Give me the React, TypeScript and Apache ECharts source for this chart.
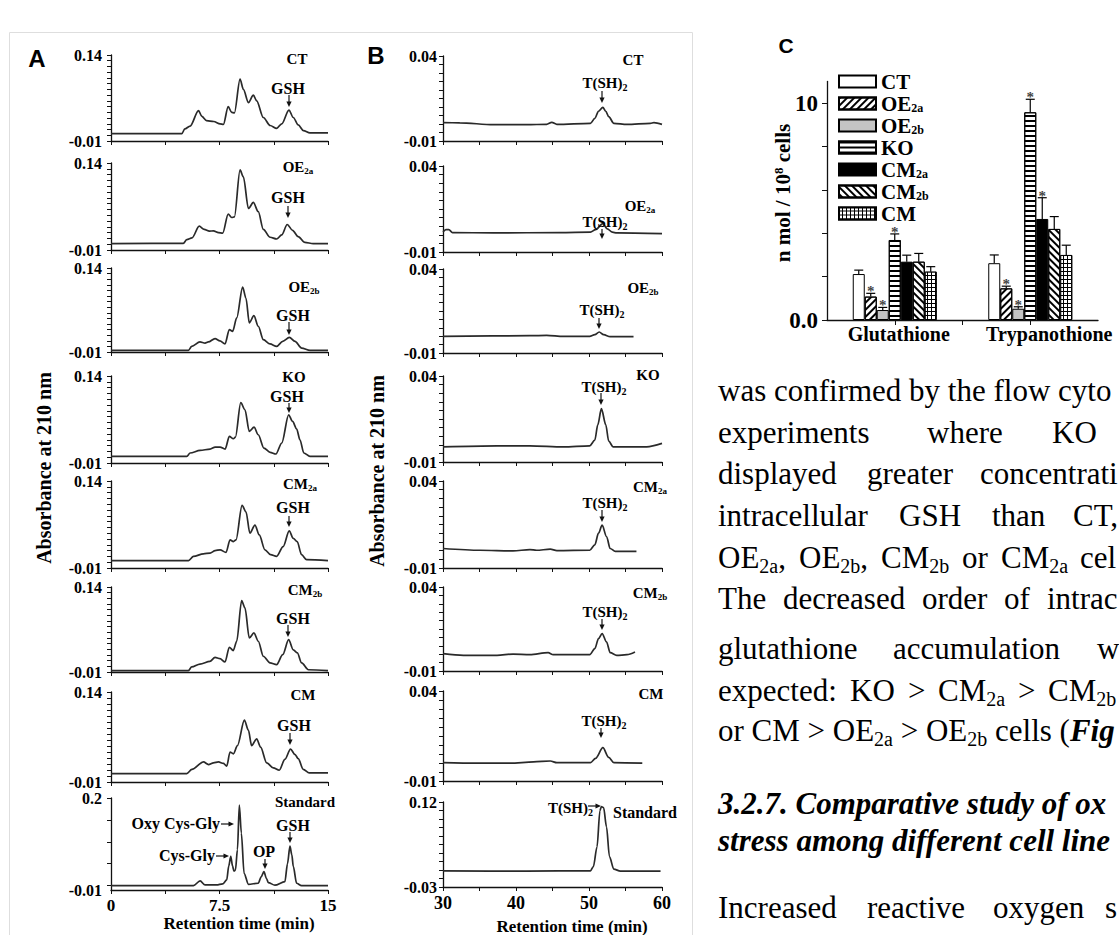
import React, { useEffect, useRef } from "react";
import * as echarts from "echarts";

// ================= DATA =================
// Panel A: HPLC chromatograms of glutathione (x: retention time, min; y: absorbance at 210 nm)
const gshCT = [[0,0.003],[4.9,0.003],[5.1,0.011],[5.47,0.016],[6.05,0.043],[6.28,0.033],[6.6,0.0255],[7.1,0.024],[7.54,0.02],[7.77,0.019],[8.1,0.05],[8.34,0.04],[8.53,0.039],[8.92,0.098],[9.15,0.08],[9.5,0.057],[9.84,0.07],[10.07,0.06],[10.53,0.031],[11.0,0.017],[11.45,0.012],[11.8,0.02],[12.3,0.044],[12.6,0.031],[12.94,0.018],[13.3,0.008],[13.75,0.004],[15,0.004]];
const gshOE2a = [[0,0.001],[5.0,0.0015],[5.24,0.008],[5.6,0.011],[6.1,0.031],[6.44,0.0255],[6.8,0.0226],[7.08,0.023],[7.43,0.02],[7.72,0.019],[8.1,0.052],[8.34,0.046],[8.53,0.047],[8.92,0.128],[9.15,0.116],[9.5,0.0616],[9.84,0.072],[10.18,0.056],[10.53,0.0255],[11.0,0.012],[11.45,0.009],[11.8,0.016],[12.18,0.034],[12.55,0.024],[12.94,0.013],[13.4,0.003],[13.98,0.001],[15,0.001]];
const gshOE2b = [[0,-0.007],[5.35,-0.007],[5.58,0.0],[6.15,0.008],[6.5,0.006],[6.73,0.008],[7.19,0.014],[7.53,0.01],[7.88,0.0044],[8.18,0.03],[8.41,0.027],[8.69,0.051],[9.1,0.106],[9.33,0.086],[9.56,0.042],[9.88,0.055],[10.18,0.036],[10.53,0.012],[10.99,0.0044],[11.45,0.0],[11.87,0.009],[12.33,0.016],[12.72,0.009],[13.18,-0.003],[13.76,-0.007],[15,-0.007]];
const gshKO = [[0,0.0014],[5.24,0.0014],[5.47,0.0072],[6.16,0.0118],[6.85,0.014],[7.2,0.0175],[7.54,0.0175],[7.89,0.014],[8.18,0.0358],[8.46,0.0318],[8.6,0.0346],[8.97,0.094],[9.26,0.0816],[9.56,0.0444],[9.89,0.0518],[10.18,0.0387],[10.57,0.0158],[11.0,0.0083],[11.4,0.0055],[11.8,0.0243],[12.28,0.073],[12.55,0.0616],[12.83,0.049],[13.06,0.03],[13.33,0.0072],[13.75,0.0014],[15,0.0014]];
const gshCM2a = [[0,0.0026],[5.36,0.0026],[5.7,0.01],[6.39,0.0145],[6.85,0.0157],[7.2,0.02],[7.54,0.0214],[7.95,0.0168],[8.23,0.0385],[8.46,0.0356],[8.64,0.0385],[9.06,0.098],[9.33,0.087],[9.6,0.05],[9.95,0.064],[10.25,0.047],[10.64,0.0214],[11.03,0.013],[11.45,0.01],[11.9,0.027],[12.32,0.054],[12.6,0.041],[12.87,0.0356],[13.17,0.013],[13.52,0.0043],[15,0.0026]];
const gshCM2b = [[0,-0.0076],[5.35,-0.0076],[5.58,-0.001],[6.15,0.004],[6.84,0.0089],[7.19,0.0158],[7.53,0.0136],[7.88,0.0077],[8.18,0.0337],[8.45,0.0278],[8.69,0.0443],[9.03,0.116],[9.26,0.103],[9.56,0.05],[9.88,0.059],[10.18,0.0443],[10.53,0.0178],[10.99,0.006],[11.45,0.003],[11.87,0.0207],[12.28,0.047],[12.6,0.029],[12.88,0.0237],[13.18,0.006],[13.64,-0.006],[15,-0.0076]];
const gshCM = [[0,0.0041],[5.24,0.0041],[5.59,0.0109],[6.39,0.0234],[6.74,0.019],[7.08,0.022],[7.43,0.0234],[7.77,0.021],[8.0,0.0166],[8.23,0.04],[8.46,0.037],[8.74,0.0506],[9.22,0.093],[9.5,0.076],[9.72,0.0506],[10.07,0.062],[10.34,0.048],[10.76,0.022],[11.22,0.0136],[11.63,0.0096],[12.02,0.0277],[12.41,0.0448],[12.71,0.036],[12.94,0.029],[13.29,0.011],[13.7,0.0053],[15,0.0053]];
const gshStandard = [[0,0],[5.7,0],[6.16,0.0108],[6.5,0.0015],[7.3,0.0015],[7.72,0.004],[8.0,0.013],[8.14,0.045],[8.28,0.067],[8.4,0.045],[8.5,0.033],[8.6,0.035],[8.74,0.082],[8.87,0.184],[9.01,0.12],[9.2,0.028],[9.5,0.003],[10.18,0.0054],[10.38,0.02],[10.57,0.032],[10.75,0.016],[10.87,0.007],[11.33,0.001],[12.02,0.009],[12.2,0.05],[12.37,0.09],[12.5,0.07],[12.6,0.044],[12.83,0.0054],[13.17,0],[15,0]];

// Panel B: HPLC chromatograms of trypanothione (x: retention time, min)
const tshCT = [[30,0.0008],[32.3,0.0007],[36.9,-0.0004],[41.5,-0.0004],[44.2,-0.0002],[44.9,0.001],[45.6,-0.0002],[50.2,0.0004],[50.8,0.0033],[51.3,0.0075],[51.9,0.0098],[52.3,0.0075],[52.7,0.0043],[53.4,0.0004],[55.2,-0.0002],[58.4,0.0004],[58.9,0.0008],[60,-0.0002]];
const tshOE2a = [[30,0.0017],[30.4,0.003],[30.8,0.003],[31.3,0.0013],[36.9,0.0011],[46,0.0013],[50.2,0.0015],[50.9,0.003],[51.9,0.0065],[52.5,0.0035],[53.2,0.0015],[53.8,0.0011],[60,0.0007]];
const tshOE2b = [[30,-0.0001],[41.9,0.0003],[44.2,0.0005],[46.5,-0.0001],[50.1,-0.0001],[50.8,0.0009],[51.4,0.0025],[52,0.0009],[52.9,-0.0003],[56.1,-0.0003]];
const tshKO = [[30,-0.0012],[37.4,-0.0006],[41.9,-0.0006],[46.5,-0.0012],[50.1,-0.0006],[50.8,0.0027],[51.2,0.0116],[51.7,0.021],[52.3,0.0116],[52.7,0.0021],[53.3,-0.0012],[57.9,-0.0012],[60,0.0008]];
const tshCM2a = [[30,0.0012],[35.1,0.0002],[39.6,-0.0002],[41.9,0.0006],[42.8,0.0002],[44.7,0.0008],[45.6,0.0],[50.1,0.0002],[50.8,0.0033],[51.3,0.01],[51.8,0.0146],[52.4,0.0081],[52.9,0.0012],[53.6,-0.0004],[56.5,-0.0004]];
const tshCM2b = [[30,0.0003],[32.8,-0.0007],[37.4,-0.0007],[39.6,0.0001],[41.9,-0.0003],[44.4,0.0009],[45.1,-0.0003],[50.1,-0.0003],[50.8,0.0033],[51.3,0.0093],[51.8,0.0123],[52.4,0.0073],[52.9,0.0009],[53.8,-0.0007],[55.2,-0.0003],[56.3,0.0013]];
const tshCM = [[30,0.0002],[34.6,-0.0001],[39.2,-0.0001],[42.4,0.0006],[44.7,0.0011],[45.6,0.0002],[50.2,0.0002],[50.9,0.0026],[51.9,0.0085],[52.7,0.0031],[53.4,0.0002],[57.3,-0.0001]];
const tshStandard = [[30,-0.0014],[41.5,-0.002],[50.2,-0.0014],[50.6,0.006],[51.1,0.041],[51.5,0.105],[51.7,0.112],[52.0,0.11],[52.4,0.076],[52.8,0.0237],[53.4,0.0016],[54.3,-0.002],[59.8,-0.002]];

const panelNames = ["CT", "OE2a", "OE2b", "KO", "CM2a", "CM2b", "CM", "Standard"];
const gshTraces = [gshCT, gshOE2a, gshOE2b, gshKO, gshCM2a, gshCM2b, gshCM, gshStandard];
const tshTraces = [tshCT, tshOE2a, tshOE2b, tshKO, tshCM2a, tshCM2b, tshCM, tshStandard];

// Axis ticks / labels
const aXTicks = [0, 3.75, 7.5, 11.25, 15];
const aXLabels = [0, 7.5, 15];
const bXTicks = [30, 35, 40, 45, 50, 55, 60];
const bXLabels = [30, 40, 50, 60];
const aYTicks = [-0.01, 0, 0.01, 0.02, 0.03, 0.04, 0.05, 0.06, 0.07, 0.08, 0.09, 0.1, 0.11, 0.12, 0.13, 0.14];
const aYLabels = [-0.01, 0.14];
const aStdYTicks = [0, 0.05, 0.1, 0.15, 0.2];
const aStdYLabels = [-0.01, 0.2];
const bYTicks = [-0.01, -0.005, 0, 0.005, 0.01, 0.015, 0.02, 0.025, 0.03, 0.035, 0.04];
const bYLabels = [-0.01, 0.04];
const bStdYTicks = [-0.03, -0.015, 0, 0.015, 0.03, 0.045, 0.06, 0.075, 0.09, 0.105, 0.12];
const bStdYLabels = [-0.03, 0.12];

// Panel C: thiol content (n mol / 10^8 cells)
const cellLines = ["CT", "OE2a", "OE2b", "KO", "CM2a", "CM2b", "CM"];
const thiolCategories = ["Glutathione", "Trypanothione"];
const glutathioneMean = [2.12, 1.08, 0.46, 3.69, 2.69, 2.69, 2.23];
const glutathioneErr = [0.18, 0.15, 0.12, 0.28, 0.3, 0.38, 0.23];
const glutathioneStar = [0, 1, 1, 1, 0, 0, 0];
const trypanothioneMean = [2.62, 1.46, 0.52, 9.58, 4.66, 4.2, 3.0];
const trypanothioneErr = [0.38, 0.1, 0.09, 0.6, 0.98, 0.57, 0.45];
const trypanothioneStar = [0, 1, 1, 1, 1, 0, 0];
const cYTicks = [0, 2, 4, 6, 8, 10];
const cYLabels = [0, 10];

// ================= LAYOUT / STYLE =================
const SERIF = '"Liberation Serif", "Times New Roman", serif';
const SANS = '"Liberation Sans", Arial, sans-serif';
const INK = "#111";
const TRACE = "#2a2a2a";
const A_LEFT = 111, A_WIDTH = 217;
const B_LEFT = 443, B_WIDTH = 219;
const topsA = [55, 163, 268, 376, 481, 587, 692, 798];
const botsA = [141, 250, 352, 463, 568, 672, 782, 890];
const topsB = [56, 166, 269, 376, 481, 587, 691, 802];
const botsB = [141, 252, 353, 462, 568, 671, 781, 887];
const C_GRID = { left: 827, top: 81.5, width: 271, height: 238.5 };
const BAR_W = 12;

// label layout: [nameX, nameY, tagX, tagY, arrowX, arrowY1, arrowY2]
const labelA = [
  [297, 59, 288, 88, 289, 95, 107],
  [298, 167, 288, 197, 288, 206, 218],
  [304, 287, 293, 315, 289, 322, 335],
  [294, 377, 287, 396, 289, 403, 413],
  [300, 484, 293, 507, 289, 516, 527],
  [305, 590, 293, 618, 288, 625, 637],
  [303, 695, 294, 725, 290, 733, 745],
  [305, 802, 293, 825, 290, 832, 843],
];
const labelB = [
  [633, 60, 605, 83, 602, 91, 103],
  [640, 206, 605, 222, 602, 229, 239],
  [643, 288, 602, 310, 599, 318, 329],
  [648, 375, 604, 387, 601, 393, 405],
  [650, 487, 605, 503, 602, 510, 522],
  [650, 593, 605, 612, 602, 619, 630],
  [651, 694, 604, 721, 601, 728, 738],
];

const fmt = (v: number) => String(Math.round(v * 1000) / 1000);
const subName = (n: string) => n.replace(/^(OE|CM)(\w+)$/, "$1{s|$2}");

function valueAxis(gridIndex: number, min: number, max: number, ticks: number[], labels: number[] | null, fontSize: number, margin: number, formatter?: any) {
  return {
    type: "value", gridIndex, min, max,
    axisLine: { show: true, onZero: false, lineStyle: { color: INK, width: 1.3 } },
    axisTick: { show: true, customValues: ticks, length: 4, inside: false, lineStyle: { color: INK, width: 1 } },
    axisLabel: labels
      ? { show: true, customValues: labels, fontFamily: SERIF, fontWeight: "bold", fontSize, color: "#000", margin, formatter: formatter || fmt }
      : { show: false },
    splitLine: { show: false },
  };
}

function txt(x: number, y: number, text: string, size: number, opt: any = {}) {
  return {
    type: "text", x, y, rotation: opt.rotation || 0, silent: true, z: 100,
    style: {
      text, fontFamily: opt.family || SERIF, fontSize: size, fontWeight: opt.weight || "bold",
      fontStyle: opt.fontStyle || "normal", fill: opt.fill || "#000",
      align: opt.align || "center", verticalAlign: "middle", rich: opt.rich,
    },
  };
}
const subRich = (size: number, drop: number, weight = "bold") => ({
  s: { fontFamily: SERIF, fontSize: size, fontWeight: weight, fill: "#000", padding: [drop, 0, 0, 0] },
});
function downArrow(x: number, y1: number, y2: number) {
  return [
    { type: "line", silent: true, z: 100, shape: { x1: x, y1, x2: x, y2: y2 - 4 }, style: { stroke: INK, lineWidth: 1.2 } },
    { type: "polygon", silent: true, z: 100, shape: { points: [[x - 2.6, y2 - 5.5], [x + 2.6, y2 - 5.5], [x, y2]] }, style: { fill: INK } },
  ];
}
function rightArrow(x1: number, x2: number, y: number) {
  return [
    { type: "line", silent: true, z: 100, shape: { x1, y1: y, x2: x2 - 4, y2: y }, style: { stroke: INK, lineWidth: 1.2 } },
    { type: "polygon", silent: true, z: 100, shape: { points: [[x2 - 5.5, y - 2.6], [x2 - 5.5, y + 2.6], [x2, y]] }, style: { fill: INK } },
  ];
}

function buildOption() {
  const grid: any[] = [], xAxis: any[] = [], yAxis: any[] = [], series: any[] = [];
  const addTrace = (data: number[][], gi: number) =>
    series.push({
      type: "line", xAxisIndex: gi, yAxisIndex: gi, data, showSymbol: false, silent: true,
      smooth: 0.3, smoothMonotone: "x", lineStyle: { color: TRACE, width: 1.7 },
    });

  for (let i = 0; i < 8; i++) {
    const std = i === 7;
    const gi = grid.length;
    grid.push({ left: A_LEFT, top: topsA[i], width: A_WIDTH, height: botsA[i] - topsA[i] });
    xAxis.push(valueAxis(gi, 0, 15, aXTicks, std ? aXLabels : null, 17, 7));
    yAxis.push(valueAxis(gi, -0.01, std ? 0.2 : 0.14, std ? aStdYTicks : aYTicks, std ? aStdYLabels : aYLabels, 16, 9));
    addTrace(gshTraces[i], gi);
  }
  for (let i = 0; i < 8; i++) {
    const std = i === 7;
    const gi = grid.length;
    grid.push({ left: B_LEFT, top: topsB[i], width: B_WIDTH, height: botsB[i] - topsB[i] });
    xAxis.push(valueAxis(gi, 30, 60, bXTicks, std ? bXLabels : null, 18, 7));
    yAxis.push(valueAxis(gi, std ? -0.03 : -0.01, std ? 0.12 : 0.04, std ? bStdYTicks : bYTicks, std ? bStdYLabels : bYLabels, 16, 6));
    addTrace(tshTraces[i], gi);
  }

  // ----- Panel C -----
  const ci = grid.length;
  grid.push(C_GRID);
  xAxis.push({
    type: "category", gridIndex: ci, data: thiolCategories,
    axisLine: { show: true, lineStyle: { color: INK, width: 1.3 } },
    axisTick: { show: true, alignWithLabel: true, length: 5, lineStyle: { color: INK } },
    axisLabel: {
      interval: 0, hideOverlap: false,
      margin: 4, color: "#000", fontFamily: SERIF, fontWeight: "bold", fontSize: 20,
      formatter: (v: string) => (v === "Glutathione" ? "{g|" + v + "}" : "{t|" + v + "}"),
      rich: {
        g: { fontFamily: SERIF, fontWeight: "bold", fontSize: 20, color: "#000", padding: [0, 0, 0, 8] },
        t: { fontFamily: SERIF, fontWeight: "bold", fontSize: 20, color: "#000", padding: [0, 0, 0, 38] },
      },
    },
    splitLine: { show: false },
  });
  yAxis.push(valueAxis(ci, 0, 11, cYTicks, cYLabels, 23, 9, (v: number) => (v === 0 ? "0.0" : String(v))));
  yAxis[ci].axisTick.length = 5;

  const stripe = (rot: number, gap: number) => ({
    symbol: "rect", symbolSize: 1, color: "#000", dashArrayX: [1, 0], dashArrayY: [1.3, gap], rotation: rot,
  });
  const barFill = ["#ffffff", "#ffffff", "#c4c4c4", "#ffffff", "#000000", "#ffffff", "#000000"];
  const barDecal: any[] = [
    undefined,
    stripe(-Math.PI / 4, 2.3),
    undefined,
    stripe(0, 2.1),
    undefined,
    stripe(Math.PI / 4, 2.3),
    { symbol: "rect", symbolSize: 1, color: "#ffffff", dashArrayX: [2.2, 1], dashArrayY: [2.2, 1], rotation: 0 },
  ];
  cellLines.forEach((name, k) => {
    series.push({
      type: "bar", name, xAxisIndex: ci, yAxisIndex: ci, barWidth: BAR_W, barGap: "0%", silent: true,
      data: [glutathioneMean[k], trypanothioneMean[k]],
      itemStyle: { color: barFill[k], borderColor: "#000", borderWidth: 1, decal: barDecal[k] },
    });
  });
  const errData: number[][] = [];
  cellLines.forEach((_, k) => {
    errData.push([0, glutathioneMean[k], glutathioneErr[k], k, glutathioneStar[k]]);
    errData.push([1, trypanothioneMean[k], trypanothioneErr[k], k, trypanothioneStar[k]]);
  });
  series.push({
    type: "custom", name: "error", xAxisIndex: ci, yAxisIndex: ci, data: errData, silent: true, z: 10,
    renderItem: (_params: any, api: any) => {
      const cat = api.value(0), mean = api.value(1), err = api.value(2), k = api.value(3), star = api.value(4);
      const base = api.coord([cat, mean]);
      const top = api.coord([cat, mean + err]);
      const x = base[0] + (k - 3) * BAR_W;
      const children: any[] = [
        { type: "line", shape: { x1: x, y1: base[1], x2: x, y2: top[1] }, style: { stroke: "#000", lineWidth: 1.2 } },
        { type: "line", shape: { x1: x - 4.5, y1: top[1], x2: x + 4.5, y2: top[1] }, style: { stroke: "#000", lineWidth: 1.2 } },
      ];
      if (star) {
        children.push({
          type: "text", x, y: top[1] - 2,
          style: { text: "*", fontFamily: SERIF, fontSize: 15, fontWeight: "bold", fill: "#444", align: "center", verticalAlign: "middle" },
        });
      }
      return { type: "group", children };
    },
  });

  // ----- annotations -----
  const g: any[] = [];
  g.push({ type: "rect", silent: true, z: 0, shape: { x: 9.5, y: 32.5, width: 683, height: 920 }, style: { fill: "none", stroke: "#dedede", lineWidth: 1 } });
  g.push(txt(37, 58, "A", 24, { family: SANS }));
  g.push(txt(376, 55, "B", 24, { family: SANS }));
  g.push(txt(786, 45, "C", 21, { family: SANS }));

  g.push(txt(44, 468, "Absorbance at 210 nm", 20, { rotation: Math.PI / 2 }));
  g.push(txt(377, 471, "Absorbance at 210 nm", 20, { rotation: Math.PI / 2 }));
  g.push(txt(239, 923, "Retention time (min)", 17));
  g.push(txt(572, 926, "Retention time (min)", 17));
  g.push(txt(783, 193, "n mol / 10{p|8} cells", 21, {
    rotation: Math.PI / 2,
    rich: { p: { fontFamily: SERIF, fontSize: 13, fontWeight: "bold", fill: "#000", padding: [0, 0, 9, 0] } },
  }));

  // Panel A labels
  for (let i = 0; i < 8; i++) {
    const [nx, ny, tx, ty, ax, ay1, ay2] = labelA[i];
    g.push(txt(nx, ny, subName(panelNames[i]), 15, { rich: subRich(9, 7) }));
    g.push(txt(tx, ty, "GSH", 16));
    g.push(...downArrow(ax, ay1, ay2));
  }
  g.push(txt(220, 823, "Oxy Cys-Gly", 16, { align: "right" }));
  g.push(...rightArrow(221, 234, 824));
  g.push(txt(215, 855, "Cys-Gly", 16, { align: "right" }));
  g.push(...rightArrow(216, 229, 856));
  g.push(txt(264, 851, "OP", 16));
  g.push(...downArrow(265, 859, 869));

  // Panel B labels
  for (let i = 0; i < 7; i++) {
    const [nx, ny, tx, ty, ax, ay1, ay2] = labelB[i];
    g.push(txt(nx, ny, subName(panelNames[i]), 15, { rich: subRich(9, 7) }));
    g.push(txt(tx, ty, "T(SH){s|2}", 15, { rich: subRich(10, 8) }));
    g.push(...downArrow(ax, ay1, ay2));
  }
  g.push(txt(593, 808, "T(SH){s|2}", 15, { align: "right", rich: subRich(10, 8) }));
  g.push(...rightArrow(588, 601, 806));
  g.push(txt(645, 812, "Standard", 16));

  // Body text to the right
  const bodyRich = {
    s: { fontFamily: SERIF, fontSize: 20, fill: "#000", padding: [17, 0, 0, 0] },
    b: { fontFamily: SERIF, fontSize: 31, fontWeight: "bold", fontStyle: "italic", fill: "#000" },
  };
  const bodyWords: any[] = [
    [718, 390, "was confirmed by the flow cyto"],
    [718, 432, "experiments"], [927, 432, "where"], [1052, 432, "KO"],
    [718, 473, "displayed"], [867, 473, "greater"], [980, 473, "concentrati"],
    [718, 515, "intracellular"], [899, 515, "GSH"], [992, 515, "than"], [1073, 515, "CT,"],
    [718, 557, "OE{s|2a},"], [799, 557, "OE{s|2b},"], [881, 557, "CM{s|2b}"], [962, 557, "or"], [1001, 557, "CM{s|2a}"], [1080, 557, "cel"],
    [718, 598, "The"], [783, 598, "decreased"], [922, 598, "order"], [1004, 598, "of"], [1047, 598, "intrac"],
    [718, 648, "glutathione"], [893, 648, "accumulation"], [1097, 648, "w"],
    [718, 690, "expected:"], [850, 690, "KO"], [908, 690, ">"], [938, 690, "CM{s|2a}"], [1018, 690, ">"], [1048, 690, "CM{s|2b}"],
    [718, 730, "or CM > OE{s|2a} > OE{s|2b} cells ({b|Fig}"],
    [718, 907, "Increased"], [867, 907, "reactive"], [993, 907, "oxygen"], [1105, 907, "s"],
  ];
  bodyWords.forEach(([x, y, t]) => g.push(txt(x, y, t, 31, { weight: "normal", align: "left", rich: bodyRich })));
  g.push(txt(718, 803, "3.2.7. Comparative study of ox", 31, { align: "left", fontStyle: "italic" }));
  g.push(txt(718, 840, "stress among different cell line", 31, { align: "left", fontStyle: "italic" }));

  // middle tick on the category axis of panel C
  g.push({ type: "line", silent: true, z: 100, shape: { x1: 962.5, y1: 320, x2: 962.5, y2: 325 }, style: { stroke: INK, lineWidth: 1 } });

  return {
    animation: false,
    backgroundColor: "#ffffff",
    grid, xAxis, yAxis, series,
    legend: {
      data: cellLines, orient: "vertical", left: 833, top: 66, itemWidth: 37, itemHeight: 12, itemGap: 1,
      icon: "rect", selectedMode: false,
      formatter: (n: string) => subName(n),
      textStyle: {
        fontFamily: SERIF, fontWeight: "bold", fontSize: 21, color: "#000", lineHeight: 21,
        rich: { s: { fontFamily: SERIF, fontWeight: "bold", fontSize: 12, color: "#000", lineHeight: 12, padding: [9, 0, 0, 0] } },
      },
    },
    graphic: g,
  };
}

export default function App() {
  const ref = useRef<HTMLDivElement>(null);
  useEffect(() => {
    if (!ref.current) return;
    const chart = echarts.init(ref.current, undefined, { renderer: "svg" });
    chart.setOption(buildOption() as any);
    return () => chart.dispose();
  }, []);
  return (
    <div
      ref={ref}
      style={{ position: "fixed", left: 0, top: 0, width: 1119, height: 935, background: "#fff" }}
    />
  );
}
